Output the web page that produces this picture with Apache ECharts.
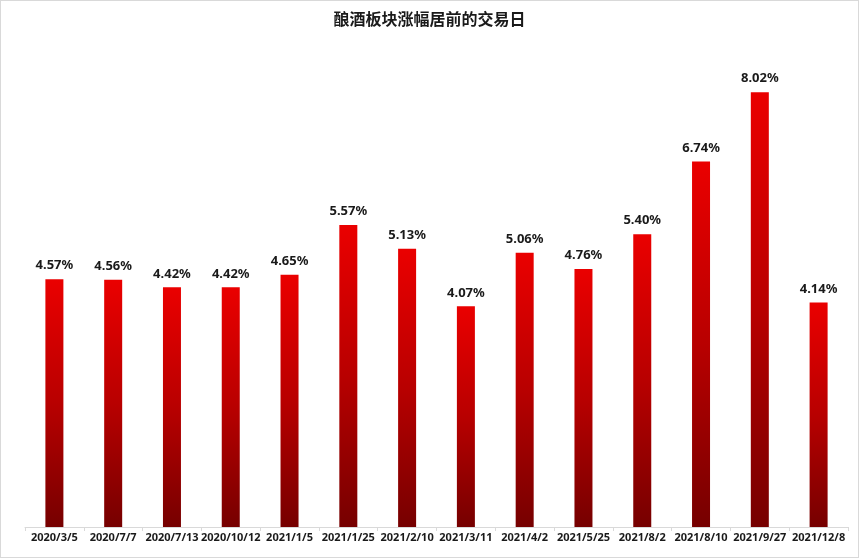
<!DOCTYPE html>
<html><head><meta charset="utf-8">
<script src="https://cdn.jsdelivr.net/npm/echarts@6/dist/echarts.min.js"></script>
<style>html,body{margin:0;padding:0;background:#fff;}
#c{width:859px;height:558px;box-sizing:border-box;border:1px solid #d9d9d9;}</style>
</head><body><div id="c"></div>
<script>
const categories = ['2020/3/5','2020/7/7','2020/7/13','2020/10/12','2021/1/5','2021/1/25','2021/2/10','2021/3/11','2021/4/2','2021/5/25','2021/8/2','2021/8/10','2021/9/27','2021/12/8'];
const values = [4.57,4.56,4.42,4.42,4.65,5.57,5.13,4.07,5.06,4.76,5.40,6.74,8.02,4.14];
const title = '酿酒板块涨幅居前的交易日';
const chart = echarts.init(document.getElementById('c'));
chart.setOption({
  animation:false,
  title:{text:title,left:'center',top:5,textStyle:{fontFamily:'Noto Sans CJK SC',fontSize:16,fontWeight:'bold',color:'#1a1a1a'}},
  grid:{left:24,right:10,top:38,bottom:30,containLabel:false},
  xAxis:{type:'category',data:categories,
    axisLine:{lineStyle:{color:'#d9d9d9'}},
    axisTick:{show:true,lineStyle:{color:'#d9d9d9'},length:4},
    axisLabel:{interval:0,color:'#1a1a1a',fontWeight:'bold',fontSize:11,fontFamily:'Noto Sans',margin:5}},
  yAxis:{type:'value',min:0,max:9,show:false,splitLine:{show:false}},
  series:[{type:'bar',data:values,barWidth:18,
    itemStyle:{color:new echarts.graphic.LinearGradient(0,0,0,1,[{offset:0,color:'#ea0000'},{offset:0.5,color:'#b80000'},{offset:1,color:'#760000'}])},
    label:{show:true,position:'top',distance:7,formatter:p=>p.value.toFixed(2)+'%',color:'#1a1a1a',fontWeight:'bold',fontSize:13,fontFamily:'Noto Sans'}}]
});
</script></body></html>
